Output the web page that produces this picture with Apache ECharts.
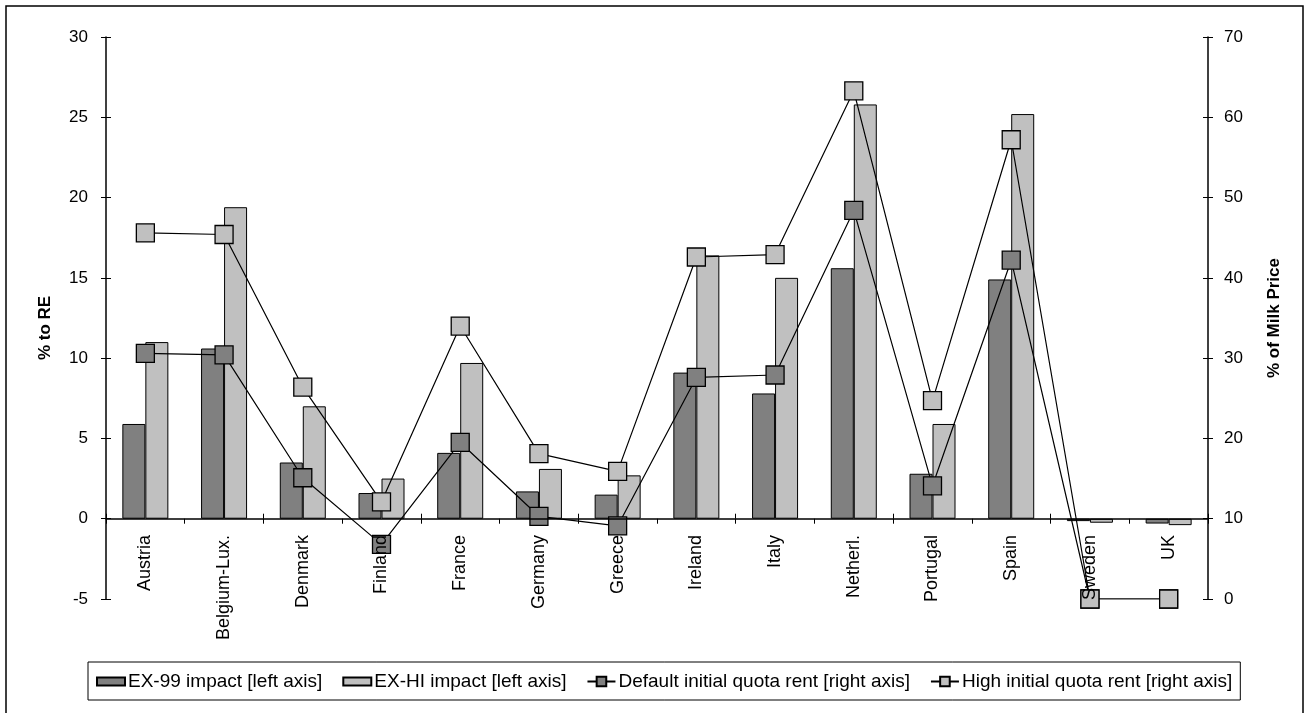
<!DOCTYPE html>
<html>
<head>
<meta charset="utf-8">
<script src="https://cdn.jsdelivr.net/npm/echarts@6/dist/echarts.min.js"></script>
<style>
html,body{margin:0;padding:0;background:#fff;}
#c{width:1308px;height:713px;}
</style>
</head>
<body>
<div id="c"></div>
<script>
var categories = ['Austria','Belgium-Lux.','Denmark','Finland','France','Germany','Greece','Ireland','Italy','Netherl.','Portugal','Spain','Sweden','UK'];
var ex99Impact = [5.9, 10.6, 3.5, 1.6, 4.1, 1.7, 1.5, 9.1, 7.8, 15.6, 2.8, 14.9, -0.15, -0.3];
var exHiImpact = [11.0, 19.4, 7.0, 2.5, 9.7, 3.1, 2.7, 16.4, 15.0, 25.8, 5.9, 25.2, -0.25, -0.4];
var defaultRent = [30.6, 30.4, 15.1, 6.8, 19.5, 10.3, 9.1, 27.6, 27.9, 48.4, 14.1, 42.2, 0, 0];
var highRent = [45.6, 45.4, 26.4, 12.1, 34.0, 18.1, 15.9, 42.6, 42.9, 63.3, 24.7, 57.2, 0, 0];
var seriesNames = ['EX-99 impact [left axis]','EX-HI impact [left axis]','Default initial quota rent [right axis]','High initial quota rent [right axis]'];

var FONT = "'Liberation Sans', Arial, sans-serif";
var BAR_ICON = 'path://M0,0L28,0L28,8L0,8Z';
var chart = echarts.init(document.getElementById('c'), null, {renderer:'canvas'});
var option = {
  animation:false,
  backgroundColor:'#fff',
  textStyle:{fontFamily:FONT, color:'#000'},
  graphic:[{type:'rect', shape:{x:6, y:6, width:1297, height:720}, style:{fill:'none', stroke:'#000', lineWidth:1.5}, z:-1}],
  grid:{left:106, right:100, top:37, bottom:114, containLabel:false},
  legend:{
    left:88, top:662, padding:[10,8,9,8], itemGap:20,
    borderColor:'#000', borderWidth:1,
    itemWidth:28, itemHeight:12,
    textStyle:{fontSize:19, fontFamily:FONT, color:'#000', padding:[0,0,0,-2]},
    data:[
      {name:seriesNames[0], icon:BAR_ICON},
      {name:seriesNames[1], icon:BAR_ICON},
      {name:seriesNames[2]},
      {name:seriesNames[3]}
    ]
  },
  xAxis:[{
    type:'category', data:categories, position:'bottom', z:10,
    axisLine:{show:true, onZero:true, onZeroAxisIndex:0, lineStyle:{color:'#000', width:1.5}},
    axisTick:{show:true, inside:false, length:5, lineStyle:{color:'#000', width:1}},
    axisLabel:{rotate:90, margin:-64, fontSize:18, color:'#000', fontFamily:FONT, interval:0},
    splitLine:{show:false}
  },{
    type:'category', data:categories, position:'bottom', z:10,
    axisLine:{show:false, onZero:true, onZeroAxisIndex:0},
    axisTick:{show:true, inside:true, length:5, lineStyle:{color:'#000', width:1}},
    axisLabel:{show:false},
    splitLine:{show:false}
  }],
  yAxis:[{
    type:'value', position:'left', min:-5, max:30, interval:5,
    name:'% to RE', nameLocation:'middle', nameGap:52, nameRotate:90,
    nameTextStyle:{fontSize:17, fontWeight:'bold', color:'#000', fontFamily:FONT, padding:[0,20,0,0]},
    axisLine:{show:true, lineStyle:{color:'#000', width:1.5}},
    axisTick:{show:true, inside:false, length:5, lineStyle:{color:'#000'}},
    axisLabel:{margin:18, fontSize:17, color:'#000', fontFamily:FONT},
    splitLine:{show:false}
  },{
    type:'value', position:'right', min:0, max:70, interval:10,
    name:'% of Milk Price', nameLocation:'middle', nameGap:58, nameRotate:90,
    nameTextStyle:{fontSize:17, fontWeight:'bold', color:'#000', fontFamily:FONT},
    axisLine:{show:true, lineStyle:{color:'#000', width:1.5}},
    axisTick:{show:true, inside:false, length:5, lineStyle:{color:'#000'}},
    axisLabel:{margin:16, fontSize:17, color:'#000', fontFamily:FONT},
    splitLine:{show:false}
  },{
    type:'value', position:'left', min:-5, max:30, interval:5,
    axisLine:{show:false}, axisTick:{show:true, inside:true, length:5, lineStyle:{color:'#000'}},
    axisLabel:{show:false}, splitLine:{show:false}
  },{
    type:'value', position:'right', min:0, max:70, interval:10,
    axisLine:{show:false}, axisTick:{show:true, inside:true, length:5, lineStyle:{color:'#000'}},
    axisLabel:{show:false}, splitLine:{show:false}
  }],
  series:[
    {name:seriesNames[0], type:'bar', xAxisIndex:0, yAxisIndex:0, data:ex99Impact, barWidth:23, barGap:'0%',
     itemStyle:{color:'#808080', borderColor:'#000', borderWidth:1}},
    {name:seriesNames[1], type:'bar', xAxisIndex:0, yAxisIndex:0, data:exHiImpact, barWidth:23, barGap:'0%',
     itemStyle:{color:'#c0c0c0', borderColor:'#000', borderWidth:1}},
    {name:seriesNames[2], type:'line', xAxisIndex:0, yAxisIndex:1, data:defaultRent, symbol:'rect', symbolSize:18,
     lineStyle:{color:'#000', width:1.2}, itemStyle:{color:'#808080', borderColor:'#000', borderWidth:1.3}},
    {name:seriesNames[3], type:'line', xAxisIndex:0, yAxisIndex:1, data:highRent, symbol:'rect', symbolSize:18,
     lineStyle:{color:'#000', width:1.2}, itemStyle:{color:'#c0c0c0', borderColor:'#000', borderWidth:1.3}}
  ]
};
chart.setOption(option);
</script>
</body>
</html>
